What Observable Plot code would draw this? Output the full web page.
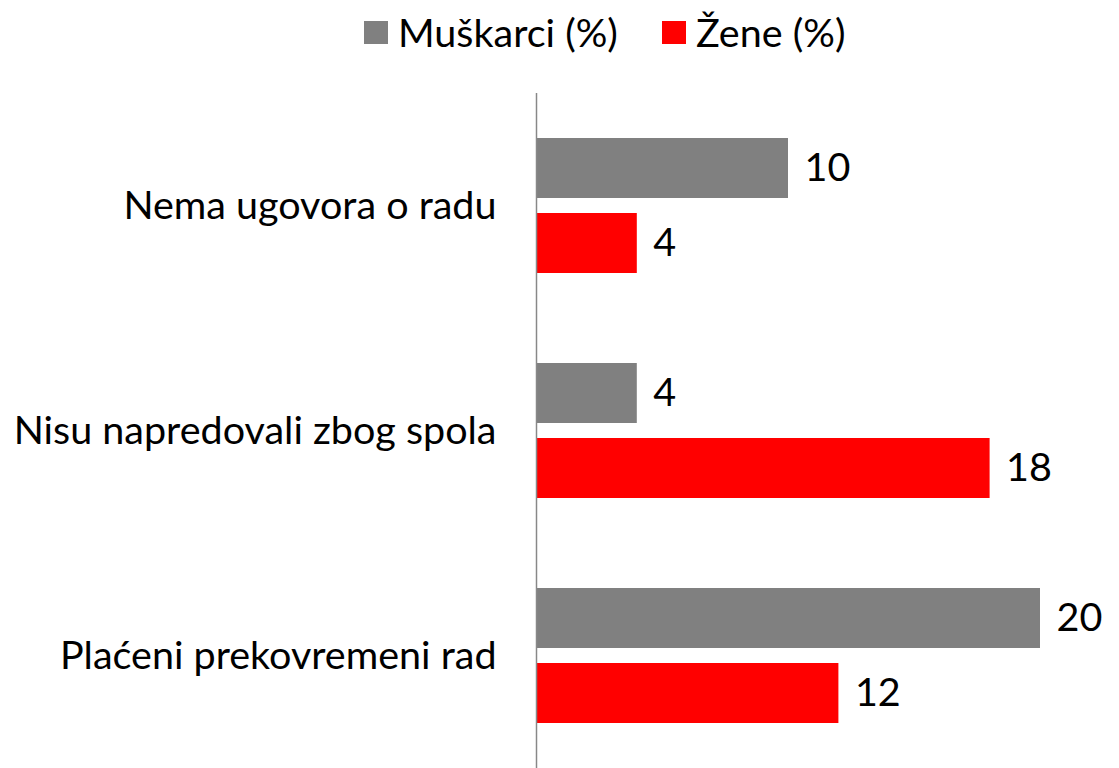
<!DOCTYPE html>
<html>
<head>
<meta charset="utf-8">
<script src="https://cdn.jsdelivr.net/npm/d3@7"></script>
<script src="https://cdn.jsdelivr.net/npm/@observablehq/plot@0.6"></script>
<style>
  html, body { margin: 0; padding: 0; background: #fff; }
  body { width: 1119px; height: 768px; overflow: hidden; font-family: Lato, "Open Sans", sans-serif; }
  #legend { height: 92px; position: relative; }
  .item { position: absolute; top: 7px; display: flex; align-items: center; font-size: 39.5px; color: #000; line-height: 50px; }
  .sw { width: 24px; height: 23px; margin-right: 10px; }
</style>
</head>
<body>
<div id="legend"></div>
<div id="chart"></div>
<script>
const categories = ["Nema ugovora o radu", "Nisu napredovali zbog spola", "Plaćeni prekovremeni rad"];
const series = ["Muškarci (%)", "Žene (%)"];
const colors = ["#808080", "#ff0000"];
const muskarci = [10, 4, 20];
const zene = [4, 18, 12];

const data = [];
categories.forEach((c, i) => {
  data.push({category: c, series: series[0], value: muskarci[i]});
  data.push({category: c, series: series[1], value: zene[i]});
});

// legend
const legend = document.getElementById("legend");
const lefts = [364, 662];
series.forEach((s, i) => {
  const d = document.createElement("div");
  d.className = "item";
  d.style.left = lefts[i] + "px";
  const sw = document.createElement("span");
  sw.className = "sw";
  sw.style.background = colors[i];
  const t = document.createElement("span");
  t.textContent = s;
  d.appendChild(sw);
  d.appendChild(t);
  legend.appendChild(d);
});

const chart = Plot.plot({
  width: 1119,
  height: 676,
  marginLeft: 536,
  marginRight: 79,
  marginTop: 0,
  marginBottom: 0,
  style: {fontFamily: "Lato, 'Open Sans', sans-serif", background: "#fff"},
  x: {domain: [0, 20], axis: null},
  fy: {domain: categories, padding: 0, axis: null},
  y: {domain: series, paddingInner: 0.2, paddingOuter: 0.6, axis: null},
  color: {domain: series, range: colors},
  marks: [
    Plot.barX(data, {fy: "category", y: "series", x: "value", fill: "series"}),
    Plot.text(data, {fy: "category", y: "series", x: "value", text: d => String(d.value), textAnchor: "start", dx: 16, fontSize: 39.5, fill: "#000"}),
    Plot.axisFy({anchor: "left", tickSize: 0, tickPadding: 40, fontSize: 39.5, label: null, fill: "#000"}),
    Plot.ruleX([0], {stroke: "#888", strokeWidth: 1.5})
  ]
});
document.getElementById("chart").appendChild(chart);
</script>
</body>
</html>
